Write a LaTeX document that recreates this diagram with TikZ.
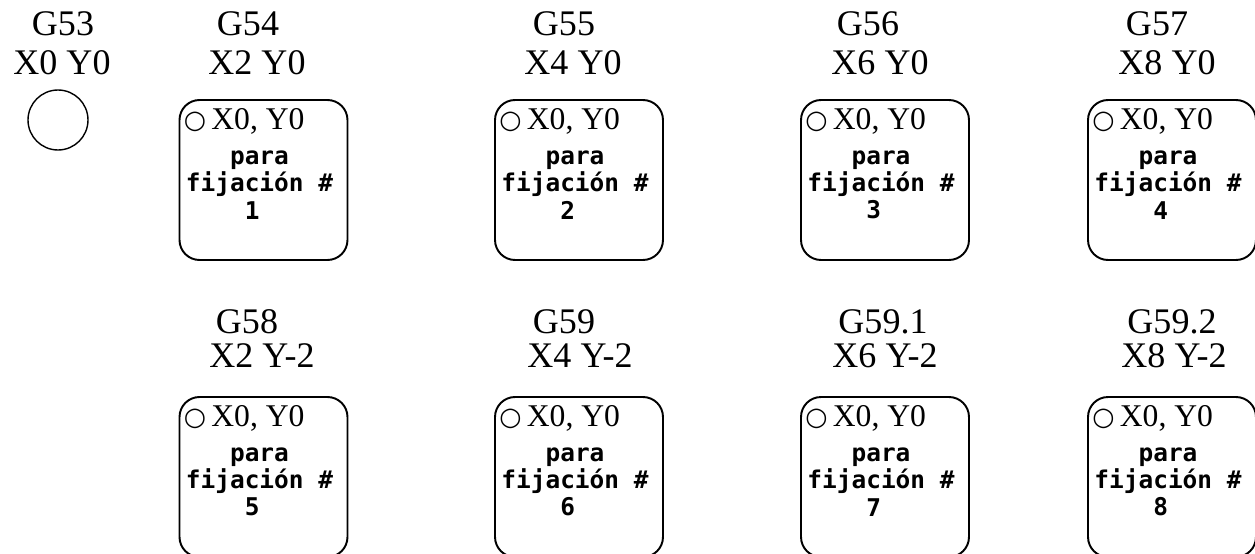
\documentclass[tikz,border=0pt]{standalone}
\usepackage{fontspec}
\setmainfont{Liberation Serif}
\newfontfamily\fixmono{DejaVu Sans Mono}
\newfontfamily\symfont{DejaVu Sans}
\usetikzlibrary{positioning,calc}
\newcommand{\origin}{\raisebox{0.5pt}{\symfont\fontsize{14.5}{14.5}\selectfont ○}\,X0, Y0}

\begin{document}
\begin{tikzpicture}[x=0.02cm, y=-0.02cm,
  fixture/.style={draw, line width=1.1pt, rounded corners=0.4cm, minimum width=3.36cm, minimum height=3.2cm, inner sep=0pt},
  gcode/.style={font=\fontsize{20.5}{22}\selectfont, inner sep=0pt, anchor=base},
  zero/.style={font=\fontsize{18}{18}\selectfont, inner sep=0pt, anchor=base west},
  fixnote/.style={font=\fixmono\bfseries\fontsize{13.9}{15.5}\selectfont, align=center, inner sep=0pt}]
  \useasboundingbox (0,0) rectangle (1255,554);
  \node[gcode] (g53) at (63,36) {G53};
  \node[gcode] (p53) at (62,75) {X0 Y0};
  \node[draw, circle, line width=0.8pt, minimum size=1.2cm] (m53) at (58,120) {};

  \node[gcode] (g54) at (248,36) {G54};
  \node[gcode] (p54) at (257,75) {X2 Y0};
  \node[fixture] (f1) at (263.5,180) {};
  \node[zero] (z1) at ($(f1.north west)+(5,30)$) {\origin};
  \node[fixnote] (n1) at ($(f1.north)+(-4,86)$) {para\\fijación \#\\1\hphantom{\ }};

  \node[gcode] (g55) at (564,36) {G55};
  \node[gcode] (p55) at (573,75) {X4 Y0};
  \node[fixture] (f2) at (579,180) {};
  \node[zero] (z2) at ($(f2.north west)+(5,30)$) {\origin};
  \node[fixnote] (n2) at ($(f2.north)+(-4,86)$) {para\\fijación \#\\2\hphantom{\ }};

  \node[gcode] (g56) at (868,36) {G56};
  \node[gcode] (p56) at (880,75) {X6 Y0};
  \node[fixture] (f3) at (885,180) {};
  \node[zero] (z3) at ($(f3.north west)+(5,30)$) {\origin};
  \node[fixnote] (n3) at ($(f3.north)+(-4,86)$) {para\\fijación \#\\3\hphantom{\ }};

  \node[gcode] (g57) at (1157,36) {G57};
  \node[gcode] (p57) at (1167,75) {X8 Y0};
  \node[fixture] (f4) at (1172,180) {};
  \node[zero] (z4) at ($(f4.north west)+(5,30)$) {\origin};
  \node[fixnote] (n4) at ($(f4.north)+(-4,86)$) {para\\fijación \#\\4\hphantom{\ }};

  \node[gcode] (g58) at (247,333) {G58};
  \node[gcode] (p58) at (262,367) {X2 Y-2};
  \node[fixture] (f5) at (263.5,477) {};
  \node[zero] (z5) at ($(f5.north west)+(5,30)$) {\origin};
  \node[fixnote] (n5) at ($(f5.north)+(-4,86)$) {para\\fijación \#\\5\hphantom{\ }};

  \node[gcode] (g59) at (564,333) {G59};
  \node[gcode] (p59) at (580,367) {X4 Y-2};
  \node[fixture] (f6) at (579,477) {};
  \node[zero] (z6) at ($(f6.north west)+(5,30)$) {\origin};
  \node[fixnote] (n6) at ($(f6.north)+(-4,86)$) {para\\fijación \#\\6\hphantom{\ }};

  \node[gcode] (g591) at (883,333) {G59.1};
  \node[gcode] (p591) at (885,367) {X6 Y-2};
  \node[fixture] (f7) at (885,477) {};
  \node[zero] (z7) at ($(f7.north west)+(5,30)$) {\origin};
  \node[fixnote] (n7) at ($(f7.north)+(-4,86)$) {para\\fijación \#\\7\hphantom{\ }};

  \node[gcode] (g592) at (1172,333) {G59.2};
  \node[gcode] (p592) at (1174,367) {X8 Y-2};
  \node[fixture] (f8) at (1172,477) {};
  \node[zero] (z8) at ($(f8.north west)+(5,30)$) {\origin};
  \node[fixnote] (n8) at ($(f8.north)+(-4,86)$) {para\\fijación \#\\8\hphantom{\ }};
\end{tikzpicture}
\end{document}
